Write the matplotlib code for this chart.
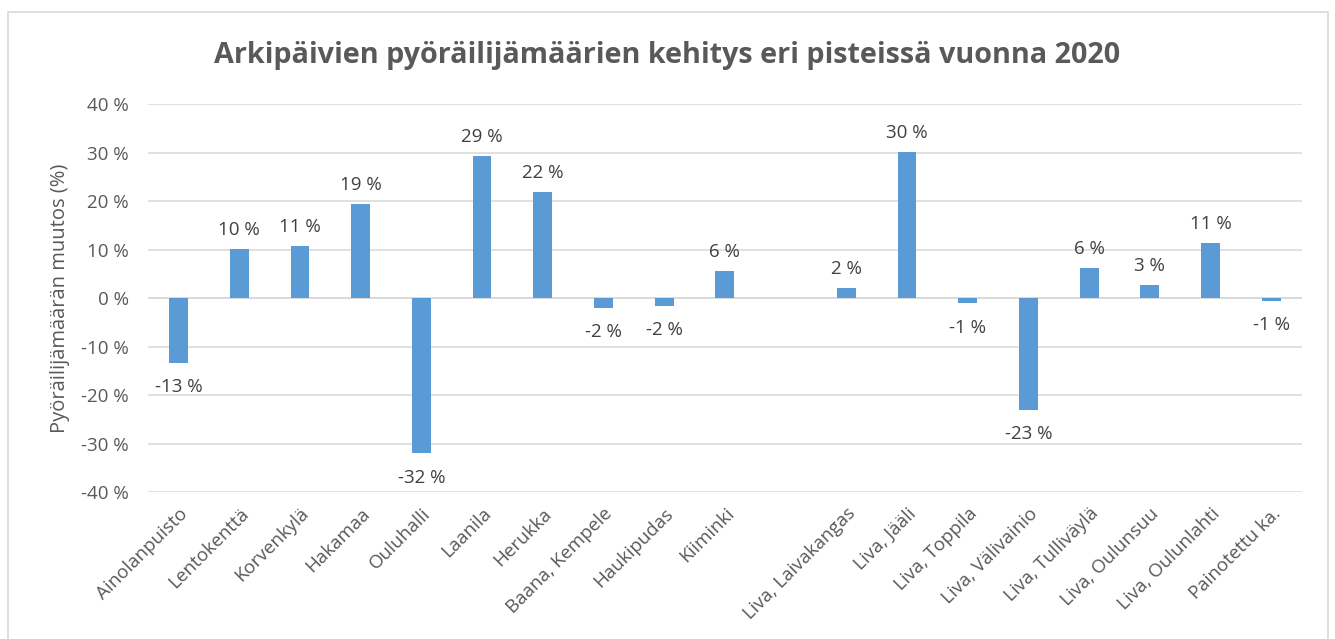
import numpy as np
import matplotlib.pyplot as plt
from matplotlib.patches import Rectangle

plt.rcParams['font.family'] = ['Open Sans', 'DejaVu Sans']

# data (empty slot between Kiiminki and the Liva points)
paikat = ['Ainolanpuisto', 'Lentokenttä', 'Korvenkylä', 'Hakamaa', 'Ouluhalli',
          'Laanila', 'Herukka', 'Baana, Kempele', 'Haukipudas', 'Kiiminki', '',
          'Liva, Laivakangas', 'Liva, Jääli', 'Liva, Toppila', 'Liva, Välivainio',
          'Liva, Tulliväylä', 'Liva, Oulunsuu', 'Liva, Oulunlahti', 'Painotettu ka.']
muutos = [-13.4, 10.1, 10.7, 19.4, -32.0,
          29.4, 21.9, -2.0, -1.6, 5.6, np.nan,
          2.1, 30.1, -1.1, -23.0,
          6.2, 2.7, 11.4, -0.6]
yticks = [-40, -30, -20, -10, 0, 10, 20, 30, 40]

grey = '#595959'
blue = '#5b9bd5'
fs = 13.5

fig = plt.figure(figsize=(13.35, 6.39), dpi=100)
ax = fig.add_axes([0.111, 0.230, 0.864, 0.607])

# light border around the chart like in excel
fig.patches.append(Rectangle((8 / 1335, -0.1), 1320 / 1335, 1.1 - 12 / 639,
                             transform=fig.transFigure, fill=False,
                             edgecolor='#d9d9d9', linewidth=1.2))

x = np.arange(len(paikat))
vals = np.array(muutos)
ax.bar(x, vals, width=0.31, color=blue, zorder=3)


def excel_round(v):
    return int(np.sign(v) * np.floor(abs(v) + 0.5))


for xi, v in zip(x, vals):
    if np.isnan(v):
        continue
    txt = f'{excel_round(v)} %'
    if v >= 0:
        ax.annotate(txt, (xi, v), xytext=(0, 7), textcoords='offset points',
                    ha='center', va='bottom', fontsize=fs, color='#404040')
    else:
        ax.annotate(txt, (xi, v), xytext=(0, -11), textcoords='offset points',
                    ha='center', va='top', fontsize=fs, color='#404040')

ax.set_ylim(-40, 40)
ax.set_xlim(-0.5, len(paikat) - 0.5)
ax.set_yticks(yticks)
ax.set_yticklabels([f'{t} %' for t in yticks])
ax.yaxis.grid(True, color='#d9d9d9', linewidth=1.1, zorder=0)
ax.set_axisbelow(True)
for s in ax.spines.values():
    s.set_visible(False)
ax.axhline(0, color='#d9d9d9', linewidth=1.1, zorder=1)
ax.tick_params(axis='both', length=0, colors=grey, labelsize=fs)
ax.tick_params(axis='y', pad=14)
ax.tick_params(axis='x', pad=9)
ax.set_xticks(x)
ax.set_xticklabels(paikat, rotation=45, ha='right', rotation_mode='anchor')
ax.set_ylabel('Pyöräilijämäärän muutos (%)', color=grey, fontsize=14.5, labelpad=8)

fig.text(0.5, 0.913, 'Arkipäivien pyöräilijämäärien kehitys eri pisteissä vuonna 2020',
         ha='center', va='center', fontsize=20.7, fontweight='bold', color=grey)

fig.savefig('out.png', dpi=100)
